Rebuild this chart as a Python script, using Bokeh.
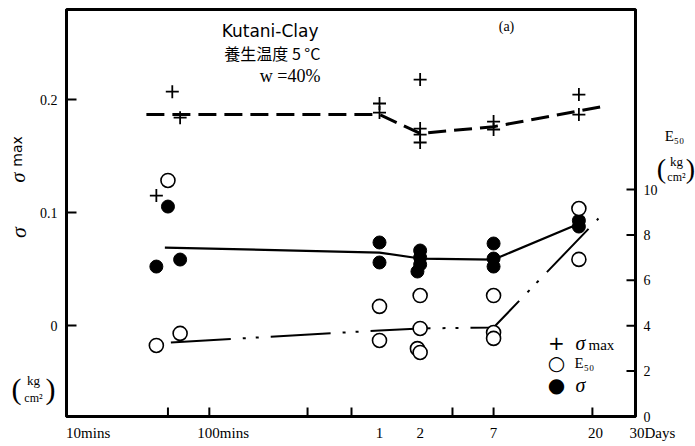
import math
from bokeh.plotting import figure
from bokeh.models import Range1d, LinearAxis, FixedTicker
from bokeh.core.properties import value
from bokeh.embed import file_html
from bokeh.resources import INLINE

# ---------------- data (time in minutes; 1 day = 1440 min) ----------------
smax_t = [42, 48, 32, 1440, 1440, 2880, 2880, 2880, 2880, 10080, 10080, 43200, 43200]
smax_v = [0.207, 0.184, 0.115, 0.1965, 0.1885, 0.2177, 0.1743, 0.169, 0.162,
          0.1805, 0.1735, 0.2044, 0.1867]

sig_t = [32, 39, 48, 1440, 1440, 2880, 2880, 2880, 2750, 10080, 10080, 10080, 43200, 43200]
sig_v = [0.0522, 0.1053, 0.0584, 0.0735, 0.0558, 0.0664, 0.0602, 0.054, 0.0478,
         0.0726, 0.0593, 0.0522, 0.0929, 0.0876]

e50_t = [32, 39, 48, 1440, 1440, 2880, 2880, 2750, 2880, 10080, 10080, 10080, 43200, 43200]
e50_v = [3.13, 10.40, 3.66, 4.85, 3.35, 5.33, 3.88, 2.99, 2.82, 5.33, 3.70, 3.44, 9.16, 6.92]

smax_line_t = [27, 1440, 2880, 10080, 65700]
smax_line_v = [0.1867, 0.1867, 0.170, 0.176, 0.194]
sig_line_t = [37, 1440, 2880, 10080, 43200]
sig_line_v = [0.069, 0.0646, 0.0593, 0.0584, 0.090]
e50_line_t = [41, 1440, 2880, 10080, 60300]
e50_line_v = [3.26, 3.79, 3.88, 3.92, 8.72]

x_label_ticks = [10, 100, 1440, 2880, 10080, 57300]
x_label_text = ["10mins", "100mins", "1", "2", "7", "20"]
x_mark_ticks = [39, 79, 422, 893, 5000, 10080, 54400]
y_ticks = [0, 0.1, 0.2]
y_tick_text = ["0", "0.1", "0.2"]
e50_ticks = [0, 2, 4, 6, 8, 10]

# ---------------- figure ----------------
X0, X1 = 6.91, 113470
Y0, Y1 = -0.0805, 0.2797
E0, E1 = 0, 17.93

p = figure(width=695, height=446, x_axis_type="log",
           x_range=Range1d(X0, X1), y_range=Range1d(Y0, Y1),
           output_backend="svg", toolbar_location=None,
           min_border_left=66, min_border_right=60, min_border_top=9, min_border_bottom=30,
           outline_line_color="black", outline_line_width=3)
p.xgrid.visible = False
p.ygrid.visible = False
p.extra_y_ranges = {"e50": Range1d(E0, E1)}

SERIF = "Liberation Serif"

xa = p.xaxis[0]
xa.ticker = FixedTicker(ticks=x_label_ticks, minor_ticks=x_mark_ticks)
xa.major_label_overrides = dict(zip(x_label_ticks, x_label_text))
xa.major_tick_in = 0
xa.major_tick_out = 0
xa.minor_tick_in = 0
xa.minor_tick_out = 0
xa.axis_line_width = 3
xa.major_label_standoff = 8
xa.major_label_text_font = SERIF
xa.major_label_text_font_size = "15px"
xa.major_label_text_color = "black"

ya = p.yaxis[0]
ya.ticker = FixedTicker(ticks=y_ticks)
ya.major_label_overrides = dict(zip(y_ticks, y_tick_text))
ya.major_tick_in = 0
ya.major_tick_out = 0
ya.minor_tick_in = 0
ya.minor_tick_out = 0
ya.axis_line_width = 3
ya.major_label_standoff = 9
ya.major_label_text_font = SERIF
ya.major_label_text_font_size = "14px"
ya.major_label_text_color = "black"

ra = LinearAxis(y_range_name="e50", ticker=FixedTicker(ticks=e50_ticks))
ra.major_tick_in = 0
ra.major_tick_out = 0
ra.minor_tick_in = 0
ra.minor_tick_out = 0
ra.axis_line_width = 3
ra.major_label_standoff = 8
ra.major_label_text_font = SERIF
ra.major_label_text_font_size = "14px"
ra.major_label_text_color = "black"
p.add_layout(ra, "right")

# ---------------- helpers: page pixel -> data (for ticks & texts placement) --------
LX0, LX1 = math.log10(X0), math.log10(X1)


def xd(px):
    return 10 ** (LX0 + (px - 66) / 569 * (LX1 - LX0))


def yd(py):
    return Y0 + (416 - py) / 407 * (Y1 - Y0)


def ed(py):
    return E0 + (416 - py) / 407 * (E1 - E0)


# inward tick marks
p.segment(x0=x_mark_ticks, x1=x_mark_ticks, y0=[Y0] * len(x_mark_ticks),
          y1=[yd(407)] * len(x_mark_ticks), line_color="black", line_width=2)
p.segment(x0=[X0] * len(y_ticks), x1=[xd(76)] * len(y_ticks), y0=y_ticks, y1=y_ticks,
          line_color="black", line_width=2)
p.segment(x0=[xd(626)] * len(e50_ticks), x1=[X1] * len(e50_ticks), y0=e50_ticks,
          y1=e50_ticks, y_range_name="e50", line_color="black", line_width=2)

# ---------------- data glyphs ----------------
p.line(smax_line_t, smax_line_v, line_color="black", line_width=3, line_dash="18 8")
p.line(sig_line_t, sig_line_v, line_color="black", line_width=2.2)
p.line(e50_line_t, e50_line_v, y_range_name="e50", line_color="black", line_width=2,
       line_dash="60 12 3 10 3 12")
p.scatter(sig_t, sig_v, marker="circle", size=13, fill_color="black", line_color="black")
p.scatter(e50_t, e50_v, y_range_name="e50", marker="circle", size=14,
          fill_color="white", line_color="black", line_width=1.6)
p.scatter(smax_t, smax_v, marker="cross", size=13, line_color="black", line_width=1.8)


# ---------------- texts (drawn unclipped) ----------------
def txt(text, px, py, size, font=SERIF, style="normal", align="center", angle=0.0):
    r = p.text(x=[xd(px)], y=[yd(py)], text=[text], text_font=value(font),
               text_font_size=value(f"{size}px"), text_font_style=value(style),
               text_align=value(align), text_baseline=value("middle"), angle=angle,
               text_color="black")
    r.level = "overlay"


txt("Kutani-Clay", 318, 30, 17, "DejaVu Sans", align="right")
txt("養生温度 5 °C", 320, 52, 16, "Noto Sans CJK JP", align="right")
txt("w =40%", 320, 75, 18, align="right")
txt("(a)", 506, 26, 14)

txt("σ", 17, 177, 20, style="italic", angle=math.pi / 2)
txt("max", 16, 151, 14, "DejaVu Sans", angle=math.pi / 2)
txt("σ", 18, 232, 22, style="italic", angle=math.pi / 2)
txt("(", 16, 388, 30)
txt("kg", 33, 380, 13)
txt("cm²", 33, 397, 12)
txt(")", 50, 388, 30)

txt("E₅₀", 674, 135, 15)
txt("(", 661, 168, 28)
txt("kg", 676, 161, 13)
txt("cm²", 676, 176, 12)
txt(")", 690, 168, 28)

txt("30Days", 629, 432, 15, align="left")

txt("+", 556, 342, 20, "DejaVu Sans")
txt("σ", 575, 342, 20, style="italic", align="left")
txt("max", 588, 344, 15, align="left")
txt("○", 556, 362, 20, "DejaVu Sans")
txt("E₅₀", 574, 362, 15, align="left")
txt("●", 556, 384, 20, "DejaVu Sans")
txt("σ", 575, 384, 20, style="italic", align="left")

with open("out.html", "w", encoding="utf-8") as f:
    f.write(file_html(p, INLINE))
